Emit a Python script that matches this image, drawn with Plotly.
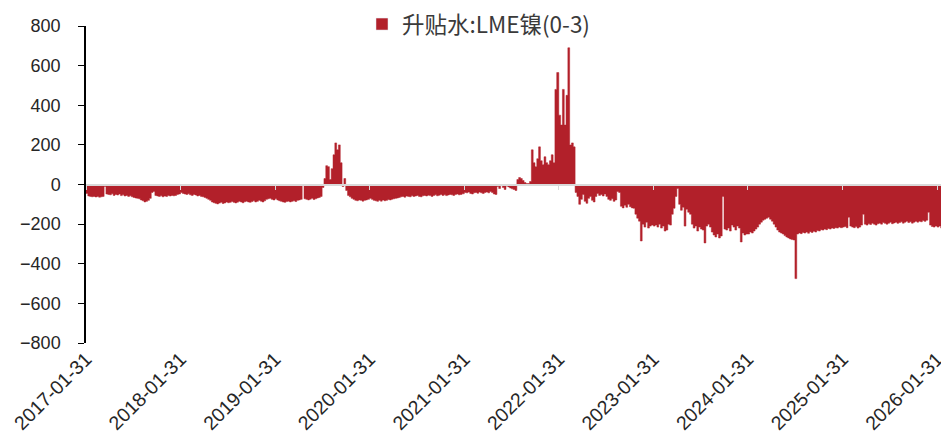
import pandas as pd
import plotly.graph_objects as go

series_name = "升贴水:LME镍(0-3)"
bar_color = "#b2202a"

tick_dates = ["2017-01-31", "2018-01-31", "2019-01-31", "2020-01-31", "2021-01-31",
              "2022-01-31", "2023-01-31", "2024-01-31", "2025-01-31", "2026-01-31"]
y_ticks = [800, 600, 400, 200, 0, -200, -400, -600, -800]

# weekly readings, each year's list starts on that year's 01-31
v2017 = [-45, -58, -60, -62, -60, -63, -61, -64, -62, -60,
         -10,
         -48, -50, -52, -47, -55, -50, -53, -48, -56, -52, -58, -55, -60, -57, -62, -65, -68, -70, -72,
         -78, -82, -88, -85, -80, -70,
         -40, -35,
         -55, -58, -60, -57, -62, -58, -60, -56, -58, -55, -57, -55, -50, -48]
v2018 = [-40, -45, -48, -50, -47, -52, -55, -50, -53, -58, -55, -60, -62, -65, -70, -75, -80,
         -88, -92, -95, -98, -94, -90, -96, -93, -88, -92, -90, -86, -90, -93, -89, -85, -88, -92,
         -87, -84, -88, -90, -86, -82, -88, -85, -80, -84, -88, -82,
         -75, -72, -70, -75, -78]
v2019 = [-72, -78, -82, -85, -88, -90, -86, -84, -88, -85, -82, -86, -80, -78, -75,
         -5,
         -72, -75, -78, -74, -70, -76, -72, -68, -65, -60,
         -15,
         30, 95, 90, 25, 80, 150, 210, 175, 200, 110,
         -10, 30, -30,
         -55, -62, -70, -75, -80, -82, -78, -80, -84, -80, -78, -75]
v2020 = [-70, -75, -80, -82, -85, -80, -84, -78, -82, -80, -76, -78, -74, -72, -70, -68, -65,
         -62, -60, -64, -58, -60, -62, -57, -60, -58, -55, -60, -62, -57, -55, -58, -54, -56, -60,
         -55, -52, -57, -54, -50, -55, -52, -56, -53, -50, -52, -55, -50, -48, -52, -50, -47]
v2021 = [-40, -42, -38, -45, -48, -42, -40, -44, -38, -42, -45, -40, -38, -42, -35, -40, -48, -50,
         -10, -20, -5, -15, -25, -8, -12, -18, -22,
         -25, -30,
         25, 35, 30, 20, 10, 5,
         5, 15,
         175, 110, 90, 130, 190, 120, 100, 140, 110, 100, 120, 150, 110,
         480, 565]
v2022 = [350, 300, 480, 300, 450, 690, 200, 210, 190,
         -40, -60, -100, -75, -50, -85, -95, -70, -60, -80, -88,
         -60, -45, -55, -50, -58, -48, -60, -75, -80, -72, -85, -78, -35,
         -40, -110, -118, -105, -115, -100, -112, -118,
         -120, -150, -170, -185, -285, -200, -215, -190, -220, -210, -205]
v2023 = [-210, -205, -215, -200, -220, -210,
         -235, -230, -200, -205,
         -150, -120, -60, -20,
         -100, -130, -115, -210, -125, -140, -150,
         -200, -220, -210, -235, -215, -225, -230,
         -295,
         -210, -200, -215,
         -240, -255, -265, -250, -270, -260,
         -60,
         -225, -230, -220, -235,
         -205, -215, -230, -210, -220,
         -290,
         -245, -255, -250]
v2024 = [-250, -240, -245, -235, -225, -215, -200,
         -190, -180, -175, -170, -165, -175, -185,
         -200, -215, -230, -240, -245, -250, -258, -265, -270, -275, -278, -280,
         -475,
         -250, -245, -248, -242, -245, -240, -246, -238, -242, -236, -240, -232, -235, -228,
         -230, -225, -228, -222, -225, -220, -222, -218, -220, -215, -218]
v2025 = [-215, -212, -218, -165,
         -210, -215, -218, -212, -220, -215,
         -205, -150,
         -200, -205, -198, -202, -195, -200, -205, -198, -195, -200,
         -192, -196, -200, -195, -190, -198, -194, -190, -196, -192,
         -188, -195, -190, -186, -192, -188, -195, -190, -186, -190,
         -185, -188, -182, -186, -180,
         -140,
         -205, -212, -215, -210]
v2026 = [-215, -210, -220, -205, -212, -218, -210, -212, -215]

yearly = {2017: v2017, 2018: v2018, 2019: v2019, 2020: v2020, 2021: v2021,
          2022: v2022, 2023: v2023, 2024: v2024, 2025: v2025, 2026: v2026}

dates, values = [], []
for yr, vals in yearly.items():
    dates += list(pd.date_range(f"{yr}-01-31", periods=len(vals), freq="7D"))
    values += vals

x_range = ["2017-01-31", "2026-03-18"]

fig = go.Figure()
fig.add_trace(go.Scatter(
    x=dates, y=values, mode="lines",
    line=dict(shape="hv", width=0.5, color=bar_color),
    fill="tozeroy", fillcolor=bar_color,
    showlegend=False, hoverinfo="skip",
))
fig.add_trace(go.Bar(x=[None], y=[None], name=series_name,
                     marker_color=bar_color, xaxis="x2", showlegend=True))

y_font = dict(family="Liberation Sans", size=18, color="#262626")
x_font = dict(family="Liberation Sans", size=19.5, color="#262626")

# the page body adds an 8px offset, so margins are set 8px smaller on top/left
fig.update_layout(
    width=949, height=444,
    margin=dict(l=78, r=8, t=18, b=109, autoexpand=False),
    paper_bgcolor="white", plot_bgcolor="white",
    showlegend=True,
    legend=dict(orientation="h", x=0.3198, xanchor="left", y=1.005, yanchor="middle",
                font=dict(family="Noto Sans CJK SC", size=22.5, color="#3a3a3a"),
                bgcolor="rgba(0,0,0,0)", borderwidth=0),
    xaxis=dict(type="date", range=x_range, tickvals=tick_dates, ticktext=tick_dates,
               tickangle=-45, showline=False, ticks="", showgrid=False, zeroline=False,
               tickfont=x_font, automargin=False, ticklabeloverflow="allow"),
    xaxis2=dict(type="date", overlaying="x", anchor="free", position=0.5, range=x_range,
                tickvals=tick_dates, showticklabels=False, showline=True,
                linecolor="#d9d9d9", linewidth=1.5, ticks="outside", ticklen=5,
                tickcolor="#d9d9d9", showgrid=False, zeroline=False, automargin=False),
    yaxis=dict(range=[-800, 800], tickvals=y_ticks, showline=True, linecolor="black",
               linewidth=1.5, ticks="outside", ticklen=6, tickcolor="black",
               showgrid=False, zeroline=False, tickfont=y_font, ticklabelstandoff=14,
               automargin=False),
)

fig.write_html("out.html")
